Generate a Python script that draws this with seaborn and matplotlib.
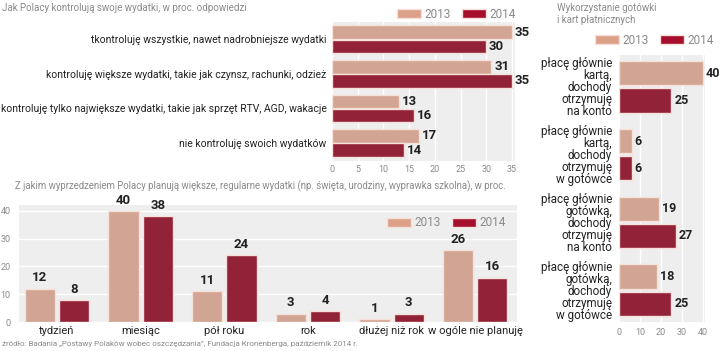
import matplotlib
matplotlib.use("Agg")
import matplotlib.pyplot as plt
import seaborn as sns
import pandas as pd
from matplotlib.patches import Patch

# ---------------- data ----------------
years = ["2013", "2014"]

ctrl_cats = [
    "tkontroluję wszystkie, nawet nadrobniejsze wydatki",
    "kontroluję większe wydatki, takie jak czynsz, rachunki, odzież",
    "kontroluję tylko największe wydatki, takie jak sprzęt RTV, AGD, wakacje",
    "nie kontroluję swoich wydatków",
]
ctrl_2013 = [35, 31, 13, 17]
ctrl_2014 = [30, 35, 16, 14]

plan_cats = ["tydzień", "miesiąc", "pół roku", "rok", "dłużej niż rok", "w ogóle nie planuję"]
plan_2013 = [12, 40, 11, 3, 1, 26]
plan_2014 = [8, 38, 24, 4, 3, 16]

pay_cats = [
    "płacę głównie\nkartą,\ndochody\notrzymuję\nna konto",
    "płacę głównie\nkartą,\ndochody\notrzymuję\nw gotówce",
    "płacę głównie\ngotówką,\ndochody\notrzymuję\nna konto",
    "płacę głównie\ngotówką,\ndochody\notrzymuję\nw gotówce",
]
pay_2013 = [40, 6, 19, 18]
pay_2014 = [25, 6, 27, 25]

title_ctrl = "Jak Polacy kontrolują swoje wydatki, w proc. odpowiedzi"
title_plan = "Z jakim wyprzedzeniem Polacy planują większe, regularne wydatki (np. święta, urodziny, wyprawka szkolna), w proc."
title_pay = "Wykorzystanie gotówki\ni kart płatnicznych"
source = "źródło: Badania „Postawy Polaków wobec oszczędzania”, Fundacja Kronenberga, październik 2014 r."

# ---------------- style ----------------
C13 = "#dc9f88"
C14 = "#a50f2d"
BG = "#eeeeee"
EDGE = "#f6e0da"
GRAY = "#8a8a8a"
TXT = "#222222"
palette = {"2013": C13, "2014": C14}

sns.set_theme(style="white")
plt.rcParams["font.family"] = ["Roboto", "DejaVu Sans"]

def long_df(cats, a, b):
    return pd.DataFrame({
        "cat": cats * 2,
        "val": a + b,
        "year": ["2013"] * len(cats) + ["2014"] * len(cats),
    })

fig = plt.figure(figsize=(7.2, 3.51), dpi=100)
W, H = 720, 351

def add_ax(x0, y0, x1, y1):
    return fig.add_axes([x0 / W, 1 - y1 / H, (x1 - x0) / W, (y1 - y0) / H])

def style_ax(ax):
    ax.set_facecolor(BG)
    for s in ax.spines.values():
        s.set_visible(False)
    ax.set_xlabel("")
    ax.set_ylabel("")
    ax.set_axisbelow(True)

VAL_FONT = dict(fontsize=9.5, fontweight="bold", color=TXT)

# ---------- top-left: control ----------
ax1 = add_ax(332, 22, 515, 161)
df1 = long_df(ctrl_cats, ctrl_2013, ctrl_2014)
sns.barplot(data=df1, y="cat", x="val", hue="year", palette=palette, orient="h",
            width=0.82, gap=0.05, edgecolor=EDGE, linewidth=1, legend=False, ax=ax1)
style_ax(ax1)
ax1.set_xlim(0, 35.6)
ax1.set_ylim(3.52, -0.5)
ax1.set_xticks([0, 5, 10, 15, 20, 25, 30, 35])
ax1.grid(axis="x", color="white", linewidth=1)
ax1.tick_params(axis="x", labelsize=6.5, colors=GRAY, length=0, pad=3)
ax1.tick_params(axis="y", labelsize=7.5, colors=TXT, length=0, pad=4)
for c in ax1.containers:
    ax1.bar_label(c, padding=2, **VAL_FONT)

# ---------- right: payments ----------
ax3 = add_ax(619, 55, 705, 322)
df3 = long_df(pay_cats, pay_2013, pay_2014)
sns.barplot(data=df3, y="cat", x="val", hue="year", palette=palette, orient="h",
            width=0.8, gap=0.1, edgecolor=EDGE, linewidth=1, legend=False, ax=ax3)
style_ax(ax3)
ax3.set_xlim(0, 41)
ax3.set_ylim(3.47, -0.47)
ax3.set_xticks([0, 10, 20, 30, 40])
ax3.grid(axis="x", color="white", linewidth=1)
ax3.tick_params(axis="x", labelsize=6.5, colors=GRAY, length=0, pad=4)
ax3.tick_params(axis="y", labelsize=8.4, colors=TXT, length=0, pad=5)
for t in ax3.get_yticklabels():
    t.set_linespacing(0.9)
for c in ax3.containers:
    ax3.bar_label(c, padding=2, fontsize=9, fontweight="bold", color=TXT)

# ---------- bottom: planning ----------
ax2 = add_ax(19, 205, 517, 322)
df2 = long_df(plan_cats, plan_2013, plan_2014)
sns.barplot(data=df2, x="cat", y="val", hue="year", palette=palette,
            width=0.82, gap=0.12, edgecolor=EDGE, linewidth=1, legend=False, ax=ax2)
style_ax(ax2)
ax2.set_xlim(-0.455, 5.5)
ax2.set_ylim(0, 42.1)
ax2.set_yticks([0, 10, 20, 30, 40])
ax2.grid(axis="y", color="white", linewidth=1)
ax2.tick_params(axis="y", labelsize=6.5, colors=GRAY, length=0, pad=6)
ax2.tick_params(axis="x", labelsize=8.0, colors=TXT, length=0, pad=3)
for c in ax2.containers:
    ax2.bar_label(c, padding=3, **VAL_FONT)

# ---------- titles / legends ----------
fig.text(2 / W, 1 - 8 / H, title_ctrl, fontsize=7.0, color=GRAY, va="center", ha="left")
fig.text(15 / W, 1 - 186 / H, title_plan, fontsize=6.9, color=GRAY, va="center", ha="left")
fig.text(557 / W, 1 - 14 / H, title_pay, fontsize=7.0, color=GRAY, va="center", ha="left",
         linespacing=1.15)
fig.text(2 / W, 1 - 344 / H, source, fontsize=5.8, color=GRAY, va="center", ha="left")

handles = [Patch(facecolor=C13, edgecolor=EDGE), Patch(facecolor=C14, edgecolor=EDGE)]
leg_kw = dict(frameon=False, ncol=2, fontsize=8.5, handlelength=2.0, handleheight=0.85,
              handletextpad=0.3, columnspacing=1.0, labelcolor=GRAY, borderaxespad=0,
              borderpad=0)
fig.legend(handles, years, loc="center right", bbox_to_anchor=(516 / W, 1 - 14 / H), **leg_kw)
fig.legend(handles, years, loc="center right", bbox_to_anchor=(714 / W, 1 - 40 / H), **leg_kw)
fig.legend(handles, years, loc="center right", bbox_to_anchor=(506 / W, 1 - 223 / H), **leg_kw)

fig.savefig("out.png", dpi=100)
